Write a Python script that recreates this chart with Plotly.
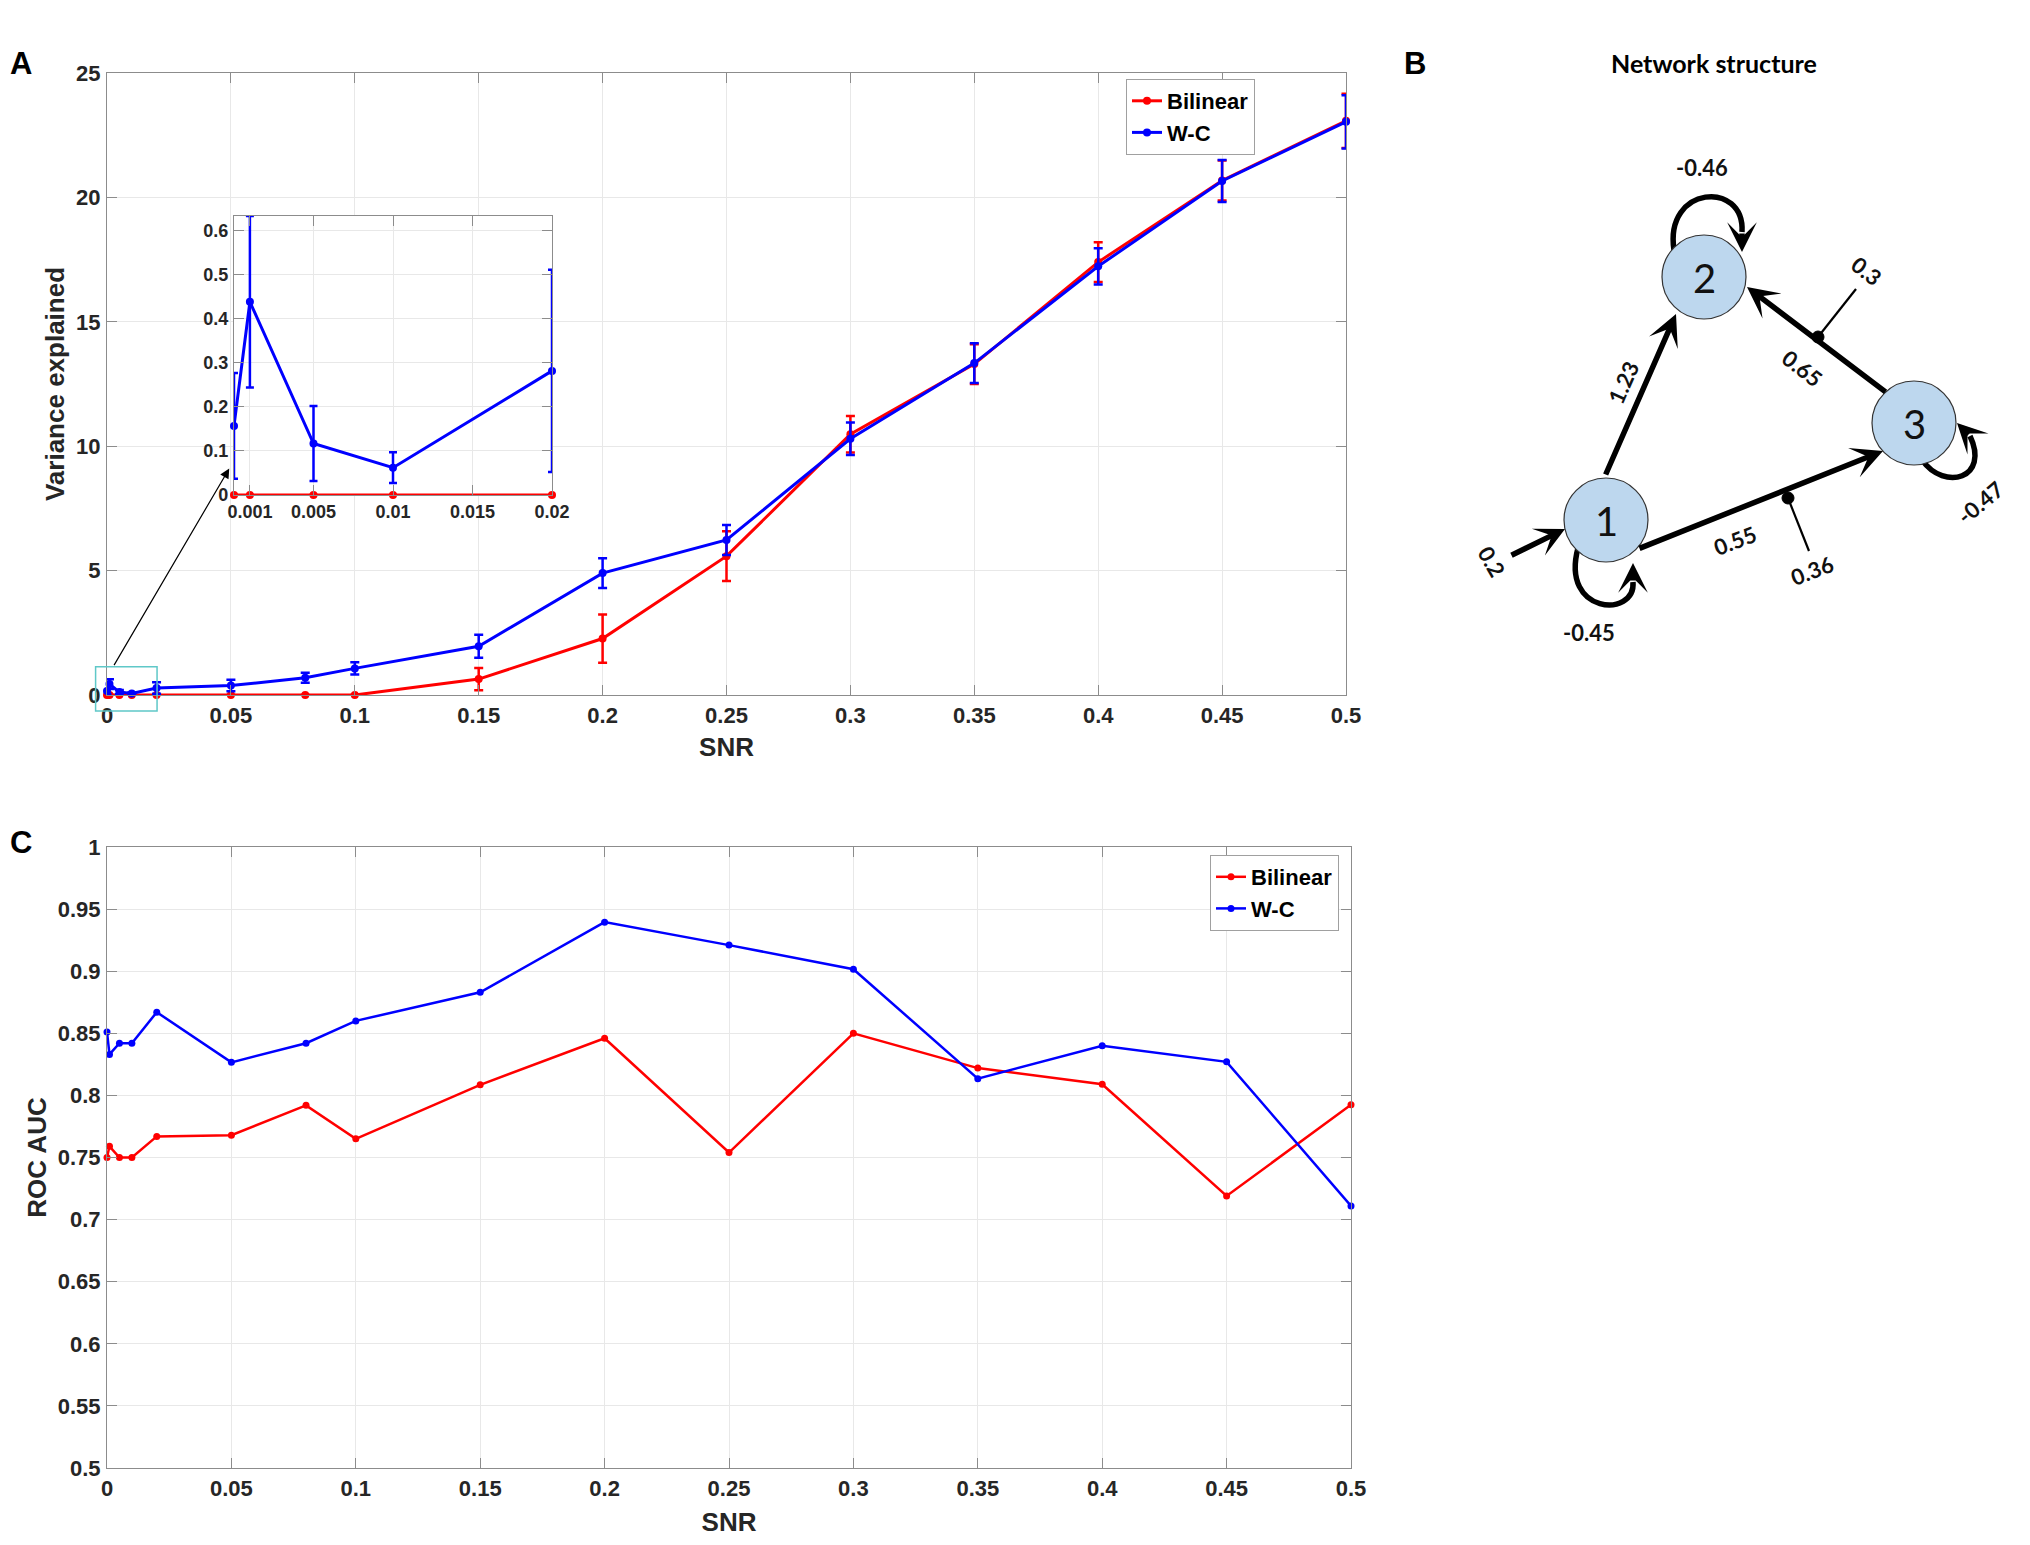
import plotly.graph_objects as go

# ---- data ----
snr = [0, 0.001, 0.005, 0.01, 0.02, 0.05, 0.08, 0.1, 0.15, 0.2, 0.25, 0.3, 0.35, 0.4, 0.45, 0.5]

var_bilinear = [0, 0, 0, 0, 0, 0, 0, 0, 0.64, 2.27, 5.58, 10.48, 13.3, 17.4, 20.68, 23.08]
err_bilinear = [0, 0, 0, 0, 0, 0, 0, 0, 0.45, 0.97, 1.0, 0.73, 0.8, 0.8, 0.8, 1.09]
var_wc = [0.157, 0.439, 0.117, 0.062, 0.282, 0.38, 0.69, 1.07, 1.96, 4.9, 6.23, 10.3, 13.34, 17.23, 20.66, 23.04]
err_wc = [0.12, 0.195, 0.085, 0.035, 0.23, 0.23, 0.2, 0.25, 0.46, 0.6, 0.6, 0.65, 0.8, 0.73, 0.84, 1.07]

auc_bilinear = [0.75, 0.759, 0.75, 0.75, 0.767, 0.768, 0.792, 0.765, 0.8085, 0.846, 0.754, 0.85, 0.822, 0.809, 0.719, 0.7925]
auc_wc = [0.851, 0.833, 0.842, 0.842, 0.867, 0.8266, 0.842, 0.86, 0.883, 0.9395, 0.921, 0.9016, 0.8135, 0.84, 0.827, 0.711]

inset_max_snr = 0.02
inset_ticks = [0.001, 0.005, 0.01, 0.015, 0.02]

# network diagram (panel B)
node_names = ["1", "2", "3"]
edge_labels = ["-0.46", "1.23", "0.3", "0.65", "0.55", "0.36", "0.2", "-0.45", "-0.47"]

# ---- page geometry (screen px; plotly page has an 8px body margin) ----
OFF = 8
W, H = 2014, 1529


def fx(px):
    return (px - OFF) / W


def fy(py):
    return 1 - (py - OFF) / H


def to_px(v, rng, lo, hi):
    return lo + (v - rng[0]) / (rng[1] - rng[0]) * (hi - lo)


A_X, A_Y = (107, 1346), (73, 695)
IN_X, IN_Y = (234, 552), (216, 495)
C_X, C_Y = (107, 1351), (847, 1468)

A_XR, A_YR = [0, 0.5], [0, 25]
IN_XR, IN_YR = [0, 0.02], [0, 0.634]
C_XR, C_YR = [0, 0.5], [0.5, 1]

RED, BLUE = "#ff0000", "#0000ff"
FONT = "Liberation Sans, Arial, sans-serif"
DFONT = "Lato, Noto Sans, sans-serif"
TXT = "#262626"
AXC = "#8c8c8c"
GRID = "#e8e8e8"


def axis_style(domain, rng, size=22, standoff=0, **kw):
    d = dict(
        domain=domain,
        range=rng,
        showline=True,
        linecolor=AXC,
        linewidth=1.2,
        mirror="ticks",
        ticks="inside",
        ticklen=10,
        tickcolor=AXC,
        tickwidth=1.2,
        showgrid=True,
        gridcolor=GRID,
        gridwidth=1,
        zeroline=False,
        tickfont=dict(family=FONT, size=size, color=TXT, weight="bold"),
        automargin=False,
        fixedrange=True,
        ticklabelstandoff=standoff,
    )
    d.update(kw)
    return d


def title_font(size=26):
    return dict(family=FONT, size=size, color=TXT, weight="bold")


fig = go.Figure()

# ---- panel A ----
for name, ys, es, col in [("Bilinear", var_bilinear, err_bilinear, RED), ("W-C", var_wc, err_wc, BLUE)]:
    fig.add_trace(go.Scatter(
        x=snr, y=ys, name=name, mode="lines+markers",
        line=dict(color=col, width=3), marker=dict(color=col, size=8),
        error_y=dict(type="data", array=es, color=col, thickness=2.5, width=4.5),
        cliponaxis=False, xaxis="x", yaxis="y", legend="legend",
    ))

# inset
idx = [i for i, s in enumerate(snr) if s <= inset_max_snr]
for ys, es, col in [(var_bilinear, err_bilinear, RED), (var_wc, err_wc, BLUE)]:
    fig.add_trace(go.Scatter(
        x=[snr[i] for i in idx], y=[ys[i] for i in idx], mode="lines+markers",
        line=dict(color=col, width=3), marker=dict(color=col, size=8),
        error_y=dict(type="data", array=[es[i] for i in idx], color=col, thickness=2.5, width=4),
        cliponaxis=False, showlegend=False, xaxis="x2", yaxis="y2",
    ))

# ---- panel C ----
for name, ys, col in [("Bilinear", auc_bilinear, RED), ("W-C", auc_wc, BLUE)]:
    fig.add_trace(go.Scatter(
        x=snr, y=ys, name=name, mode="lines+markers",
        line=dict(color=col, width=2.5), marker=dict(color=col, size=7),
        cliponaxis=False, xaxis="x3", yaxis="y3", legend="legend2",
    ))

shapes = []
annotations = []


def label(x, y, text, font, angle=0, xanchor="center"):
    annotations.append(dict(xref="paper", yref="paper", x=fx(x), y=fy(y), text=text, showarrow=False,
                            xanchor=xanchor, yanchor="middle", textangle=angle, font=font))


# white inset background (covers panel A grid)
shapes.append(dict(type="rect", xref="x2", yref="y2", x0=IN_XR[0], x1=IN_XR[1], y0=IN_YR[0], y1=IN_YR[1],
                   fillcolor="white", line=dict(width=0), layer="below"))

# cyan zoom box on panel A
box_x = [-0.0046, 0.0202]
box_y = [-0.64, 1.14]
shapes.append(dict(type="rect", xref="x domain", yref="y domain",
                   x0=box_x[0] / A_XR[1], x1=box_x[1] / A_XR[1],
                   y0=box_y[0] / A_YR[1], y1=box_y[1] / A_YR[1],
                   line=dict(color="#5fc8c8", width=1.5), layer="above"))

# arrow from zoom box to inset
tail_x = to_px(0.0025, A_XR, *A_X)
tail_y = to_px(box_y[1], A_YR, A_Y[1], A_Y[0])
head_x = to_px(-0.0003, IN_XR, *IN_X)
head_y = to_px(0.06, IN_YR, IN_Y[1], IN_Y[0])
annotations.append(dict(xref="paper", yref="paper", x=fx(head_x), y=fy(head_y), text="",
                        showarrow=True, ax=tail_x - head_x, ay=tail_y - head_y,
                        arrowhead=2, arrowsize=1.6, arrowwidth=1.2, arrowcolor="black", standoff=0))

# ---- panel B : network diagram ----
node_pos = [(1606, 520), (1704, 277), (1914, 423)]
node_r = 42
EDGE_W = 5.5


def edge(tail, head, size=0.95, width=EDGE_W):
    annotations.append(dict(xref="paper", yref="paper", x=fx(head[0]), y=fy(head[1]), text="",
                            showarrow=True, ax=tail[0] - head[0], ay=tail[1] - head[1],
                            arrowhead=3, arrowsize=size, arrowwidth=width, arrowcolor="black",
                            standoff=0, startstandoff=0))


def ppath(points):
    (x0, y0), (x1, y1), (x2, y2), (x3, y3) = points
    return (f"M {fx(x0)},{fy(y0)} C {fx(x1)},{fy(y1)} {fx(x2)},{fy(y2)} {fx(x3)},{fy(y3)}")


# self loops (drawn before the nodes so circles cover their roots)
loops = [
    [(1674, 250), (1664, 185), (1745, 180), (1742, 232)],
    [(1578, 548), (1560, 615), (1636, 618), (1633, 582)],
    [(1922, 460), (1945, 492), (1990, 478), (1970, 436)],
]
loop_heads = [((1742, 232), (1742, 252)), ((1633, 582), (1633, 563)), ((1970, 436), (1957, 423))]
for pts in loops:
    shapes.append(dict(type="path", xref="paper", yref="paper", path=ppath(pts),
                       line=dict(color="black", width=EDGE_W), layer="above"))
for t, h in loop_heads:
    edge(t, h, size=0.9)

# modulatory inputs on edges
mods = [((1818, 337), (1856, 289)), ((1788, 498), (1809, 551))]
for dot, end in mods:
    shapes.append(dict(type="line", xref="paper", yref="paper", x0=fx(dot[0]), y0=fy(dot[1]),
                       x1=fx(end[0]), y1=fy(end[1]), line=dict(color="black", width=2.2), layer="above"))

for (cx, cy), nm in zip(node_pos, node_names):
    shapes.append(dict(type="circle", xref="paper", yref="paper",
                       x0=fx(cx - node_r), x1=fx(cx + node_r), y0=fy(cy + node_r), y1=fy(cy - node_r),
                       fillcolor="#bdd7ee", line=dict(color="#333333", width=1.2), layer="above"))
    label(cx, cy + 1, nm, dict(family=DFONT, size=40, color="#111111"))

for dot, end in mods:
    r = 6
    shapes.append(dict(type="circle", xref="paper", yref="paper",
                       x0=fx(dot[0] - r), x1=fx(dot[0] + r), y0=fy(dot[1] + r), y1=fy(dot[1] - r),
                       fillcolor="black", line=dict(color="black", width=1), layer="above"))

# directed edges
edge((1605, 476), (1676, 314))
edge((1887, 393), (1747, 287))
edge((1638, 549), (1883, 451))
edge((1510, 556), (1565, 529), size=0.9)

label_pos = [(1702, 168, 0), (1623, 382, -66), (1866, 271, 38), (1803, 368, 38), (1735, 540, -21),
             (1812, 570, -21), (1492, 561, 60), (1589, 632, 0), (1980, 502, -40)]
for txt, (lx, ly, ang) in zip(edge_labels, label_pos):
    label(lx, ly, txt, dict(family=DFONT, size=22, color="#111111", weight="bold"), ang)

label(1714, 63, "Network structure", dict(family=DFONT, size=25, color="black", weight="bold"))

# panel letters (A and C hug the left page edge)
letter_font = dict(family=FONT, size=31, color="black", weight="bold")
label(OFF, 64, "A", letter_font, xanchor="left")
label(1415, 63, "B", letter_font)
label(OFF, 843, "C", letter_font, xanchor="left")

legend_style = dict(
    font=dict(family=FONT, size=22, color="black", weight="bold"),
    bgcolor="white", bordercolor="#a0a0a0", borderwidth=1,
    xanchor="right", yanchor="top", tracegroupgap=0, itemwidth=30,
)

fig.update_layout(
    width=W, height=H,
    margin=dict(l=0, r=0, t=0, b=0),
    paper_bgcolor="white", plot_bgcolor="white",
    template="none",
    xaxis=axis_style([fx(A_X[0]), fx(A_X[1])], A_XR, dtick=0.05, tick0=0, anchor="y",
                     title=dict(text="SNR", font=title_font(), standoff=11)),
    yaxis=axis_style([fy(A_Y[1]), fy(A_Y[0])], A_YR, standoff=1, dtick=5, tick0=0, anchor="x",
                     title=dict(text="Variance explained", font=title_font(), standoff=3)),
    xaxis2=axis_style([fx(IN_X[0]), fx(IN_X[1])], IN_XR, size=18, tickvals=inset_ticks, anchor="y2"),
    yaxis2=axis_style([fy(IN_Y[1]), fy(IN_Y[0])], IN_YR, size=18, standoff=1, dtick=0.1, tick0=0, anchor="x2"),
    xaxis3=axis_style([fx(C_X[0]), fx(C_X[1])], C_XR, dtick=0.05, tick0=0, anchor="y3",
                      title=dict(text="SNR", font=title_font(), standoff=14)),
    yaxis3=axis_style([fy(C_Y[1]), fy(C_Y[0])], C_YR, standoff=1, dtick=0.05, tick0=0.5, anchor="x3",
                      title=dict(text="ROC AUC", font=title_font(), standoff=3)),
    legend=dict(x=fx(1255), y=fy(79), **legend_style),
    legend2=dict(x=fx(1339), y=fy(855), **legend_style),
    shapes=shapes,
    annotations=annotations,
)

fig.write_html("out.html")
